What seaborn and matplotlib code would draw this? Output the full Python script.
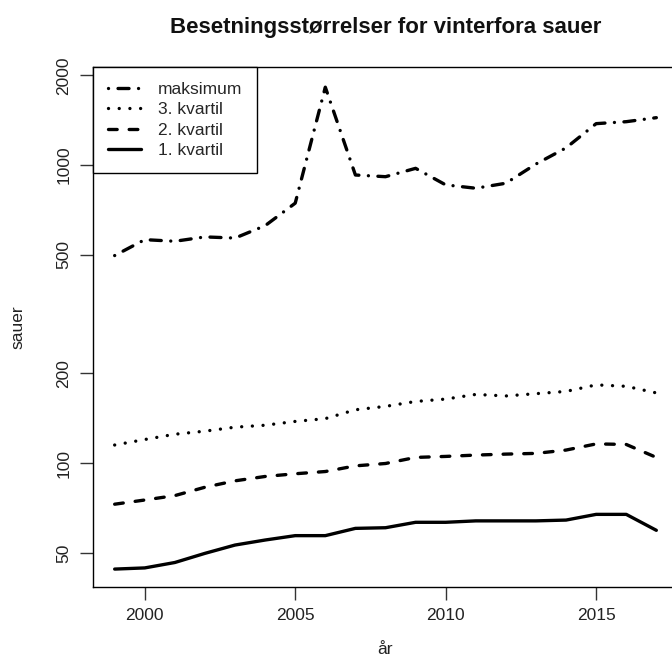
import matplotlib
matplotlib.use('Agg')
import matplotlib.pyplot as plt
import pandas as pd
import seaborn as sns

# values (log scale), one per year
years = list(range(1999, 2018))
maksimum = [497, 562, 555, 574, 569, 626, 745, 1825, 926, 914, 975, 858, 836, 869, 1008, 1142, 1377, 1398, 1442]
kvartil3 = [115, 120, 125, 128, 132, 134, 138, 141, 151, 155, 161, 164, 170, 168, 171, 174, 183, 181, 172]
kvartil2 = [72.8, 75.2, 77.8, 83.0, 87.2, 90.2, 92.1, 93.7, 97.9, 99.7, 104.5, 105.3, 106.4, 107.2, 107.8, 110.6, 116.0, 115.5, 104.5]
kvartil1 = [44.1, 44.5, 46.4, 49.8, 53.1, 55.2, 57.1, 57.1, 60.4, 60.7, 63.3, 63.3, 64, 64, 64, 64.4, 67.3, 67.3, 59.5]
names = ['maksimum', '3. kvartil', '2. kvartil', '1. kvartil']
yticks = [50, 100, 200, 500, 1000, 2000]
xticks = [2000, 2005, 2010, 2015]

df = pd.DataFrame({
    'år': years * 4,
    'sauer': maksimum + kvartil3 + kvartil2 + kvartil1,
    'serie': [n for n in names for _ in years],
})

sns.set_style('ticks')
plt.rcParams['font.family'] = ['Liberation Sans', 'DejaVu Sans']
plt.rcParams['lines.dash_capstyle'] = 'round'
plt.rcParams['lines.solid_capstyle'] = 'round'

# R style line types: dotdash, dotted, dashed, solid
dash_map = {
    'maksimum': (0.01, 2.85, 3.3, 2.85),
    '3. kvartil': (0.01, 3.2),
    '2. kvartil': (2.6, 3.6),
    '1. kvartil': '',
}

fig = plt.figure(figsize=(6.72, 6.72), dpi=100)
ax = fig.add_axes([93 / 672, 1 - 587 / 672, (678 - 93) / 672, (587 - 67) / 672])

sns.lineplot(data=df, x='år', y='sauer', hue='serie', style='serie',
             hue_order=names, style_order=names,
             palette=['black'] * 4, dashes=dash_map, linewidth=2.4, ax=ax)

ax.set_yscale('log')
ax.set_ylim(38.4, 2133)
ax.set_xlim(1998.28, 2017.72)
ax.set_yticks(yticks)
ax.set_yticklabels([str(v) for v in yticks])
ax.minorticks_off()
ax.set_xticks(xticks)
ax.set_xticklabels([str(v) for v in xticks])

for sp in ax.spines.values():
    sp.set_visible(True)
    sp.set_color('black')
    sp.set_linewidth(1.0)

ax.tick_params(axis='both', length=9.4, width=1.0, color='#333333',
               labelsize=12.5, labelcolor='#222222', pad=6)
for lab in ax.get_yticklabels():
    lab.set_rotation(90)
    lab.set_va('center')

ax.set_xlabel('år', fontsize=12.5, color='#222222')
ax.set_ylabel('sauer', fontsize=12.5, color='#222222')
ax.xaxis.set_label_coords((385 - 93) / 585, -(650 - 587) / 520)
ax.xaxis.label.set_va('center')
ax.yaxis.set_label_coords(-(93 - 18) / 585, 0.5)
ax.yaxis.label.set_va('center')

ax.set_title('Besetningsstørrelser for vinterfora sauer', fontsize=16,
             fontweight='bold', color='#111111', y=1 + (67 - 28) / 520,
             va='center', pad=0)

handles, labels = ax.get_legend_handles_labels()
for h in handles:
    h.set_dash_capstyle('round')
leg = ax.legend(handles, labels, loc='upper left', bbox_to_anchor=(0, 1),
                borderaxespad=0, frameon=True, fancybox=False, edgecolor='black',
                framealpha=1, fontsize=12.5, handlelength=1.9, handletextpad=1.0,
                labelspacing=0.3, borderpad=0.85)
leg.get_frame().set_linewidth(1.0)

fig.savefig('out.png', dpi=100)
